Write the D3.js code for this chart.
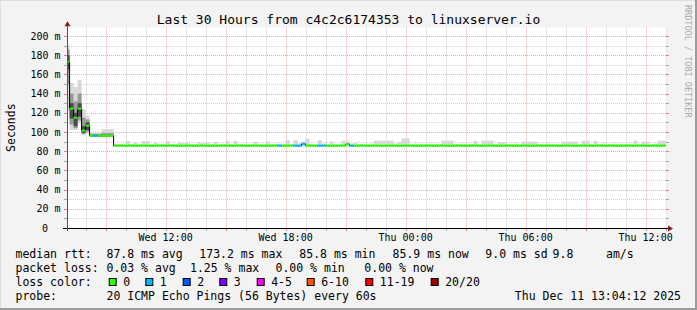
<!DOCTYPE html>
<html>
<head>
<meta charset="utf-8">
<script src="https://cdn.jsdelivr.net/npm/d3@7"></script>
<style>
body { margin: 0; background: #f3f3f3; }
svg text { font-family: "DejaVu Sans Mono", monospace; }
</style>
</head>
<body>
<div id="chart"></div>
<script>
// time window and 12 minute slots
var tStart = new Date(2025, 11, 10, 7, 4, 12);
var tEnd = new Date(2025, 11, 11, 13, 4, 12);
var firstSlot = new Date(2025, 11, 10, 7, 0, 0);
var slotMinutes = 12;

// median rtt per slot (ms)
var median = [
  173.2,124.3,114.9,124.3,101.4,106.6,96.2,96.3,96.1,96.2,96.2,96.3,85.8,85.9,85.8,
  85.8,85.9,85.8,85.8,85.9,85.8,85.8,85.8,85.9,85.8,85.8,85.9,85.8,85.8,85.8,
  85.9,85.8,85.8,85.8,85.9,85.8,85.8,85.8,85.8,85.9,85.8,85.8,85.8,85.9,85.8,
  85.8,85.8,85.9,85.8,85.8,85.8,85.8,85.9,85.8,85.8,85.8,85.9,85.8,85.8,87.6,
  85.9,85.8,85.8,85.8,85.9,85.8,85.8,85.8,85.8,85.9,87.2,85.8,85.8,85.8,85.9,
  85.8,85.8,85.9,85.8,85.8,85.8,85.9,85.8,85.8,85.8,85.9,85.8,85.8,85.8,85.8,
  85.9,85.8,85.8,85.8,85.9,85.8,85.8,85.8,85.9,85.8,85.8,85.8,85.9,85.8,85.8,
  85.8,85.9,85.8,85.8,85.8,85.9,85.8,85.8,85.8,85.9,85.8,85.8,85.8,85.9,85.8,
  85.8,85.9,85.8,85.8,85.8,85.9,85.8,85.8,85.8,85.9,85.8,85.8,85.8,85.9,85.8,
  85.8,85.9,85.8,85.8,85.8,85.9,85.8,85.8,85.9,85.8,85.8,85.8,85.9,85.8,85.9
];

// lost pings (of 20) per slot
var loss = [
  0,0,0,0,0,0,0,1,0,0,0,0,0,0,0,
  0,0,0,0,0,0,0,0,0,0,0,0,0,0,0,
  0,0,0,0,0,0,0,0,0,0,0,0,0,0,0,
  0,0,0,0,0,0,0,0,1,0,0,0,1,1,1,
  0,0,0,1,1,0,0,0,0,0,0,1,0,0,0,
  0,0,0,0,0,0,0,0,0,0,0,0,0,0,0,
  0,0,0,0,0,0,0,0,0,0,0,0,0,0,0,
  0,0,0,0,0,0,0,0,0,0,0,0,0,0,0,
  0,0,0,0,0,0,0,0,0,0,0,0,0,0,0,
  0,0,0,0,0,0,0,0,0,0,0,0,0,0,0
];

// smoke: slowest and fastest ping per slot (ms)
var smokeHi = [
  191,151,147,154,124,117,99,99,99,103,103,103,87.5,87.5,87.5,
  90.6,87.5,88.5,87.5,90.6,90.6,87.5,88.5,87.5,87.5,90.6,87.5,87.5,88.5,88.5,
  88.5,87.5,87.5,88.5,88.5,89.3,87.5,89.9,87.5,87.5,91,87.5,91,87.5,87.5,
  87.5,87.5,89.9,87.5,87.5,89.9,87.5,87.5,88,87.5,91.7,87.5,91.7,88,90,
  93,87.5,87.5,91.7,88,87.5,89.9,87.5,87.5,91,91,88,88.5,87.5,87.5,
  87.5,88,91,91,91,91,91,88,89.3,93.4,93.4,87.5,88,87.5,87.5,
  87.5,88,87.5,87.5,91,91,91,87.5,87.5,88,87.5,87.5,91,87.5,91,
  91,91,87.5,89.3,89.3,87.5,87.5,88,87.5,89.9,89.9,89.9,89.9,87.5,87.5,
  88,87.5,87.5,87.5,89.9,89.9,89.9,89.9,87.5,91,91,87.5,91,87.5,88,
  87.5,87.5,88,87.5,87.5,87.5,88,91,87.5,89.9,89.9,87.5,88,91,91
];
var smokeLo = [
  122,102,102,109,96.9,98,94.5,94.5,94.5,94.5,94.5,94.5,84.5,84.5,84.5,
  84.5,84.5,84.5,84.5,84.5,84.5,84.5,84.5,84.5,84.5,84.5,84.5,84.5,84.5,84.5,
  84.5,84.5,84.5,84.5,84.5,84.5,84.5,84.5,84.5,84.5,84.5,84.5,84.5,84.5,84.5,
  84.5,84.5,84.5,84.5,84.5,84.5,84.5,84.5,84.5,84.5,84.5,84.5,84.5,84.5,84.5,
  84.5,84.5,84.5,84.5,84.5,84.5,84.5,84.5,84.5,84.5,84.5,84.5,84.5,84.5,84.5,
  84.5,84.5,84.5,84.5,84.5,84.5,84.5,84.5,84.5,84.5,84.5,84.5,84.5,84.5,84.5,
  84.5,84.5,84.5,84.5,84.5,84.5,84.5,84.5,84.5,84.5,84.5,84.5,84.5,84.5,84.5,
  84.5,84.5,84.5,84.5,84.5,84.5,84.5,84.5,84.5,84.5,84.5,84.5,84.5,84.5,84.5,
  84.5,84.5,84.5,84.5,84.5,84.5,84.5,84.5,84.5,84.5,84.5,84.5,84.5,84.5,84.5,
  84.5,84.5,84.5,84.5,84.5,84.5,84.5,84.5,84.5,84.5,84.5,84.5,84.5,84.5,84.5
];
// denser smoke in the first slots
var midHi = [186,140,132,140,115,113,98,98,98,99,99,99];
var midLo = [150,108,104,112,98,100,95,95,95,95,95,95];
var coreHi = [180,130,120,130,106,110,97,97,97,97,97,97];
var coreLo = [165,114,106,116,99,102,96,96,96,96,96,96];

// axis labels
var yTickValues = [0, 20, 40, 60, 80, 100, 120, 140, 160, 180, 200];
var xTickTimes = [new Date(2025, 11, 10, 12), new Date(2025, 11, 10, 18), new Date(2025, 11, 11, 0),
                  new Date(2025, 11, 11, 6), new Date(2025, 11, 11, 12)];
var xTickLabels = ['Wed 12:00', 'Wed 18:00', 'Thu 00:00', 'Thu 06:00', 'Thu 12:00'];

// legend
var lossLabels = ['0', '1', '2', '3', '4-5', '6-10', '11-19', '20/20'];
var lossColors = ['#26ff00', '#00b8ff', '#0059ff', '#7e00ff', '#ff00ff', '#ff5500', '#ff0000', '#a10000'];
var rttStats = [87.8, 173.2, 85.8, 85.9, 9.0];
var rttStatNames = ['avg', 'max', 'min', 'now', 'sd'];
var amps = 9.8;
var lossStats = [0.03, 1.25, 0.00, 0.00];
var lossStatNames = ['avg', 'max', 'min', 'now'];

var width = 697, height = 310;
var plot = { left: 67, right: 667, bottom: 228 };

var svg = d3.select('#chart').append('svg')
    .attr('width', width)
    .attr('height', height);

var x = d3.scaleTime().domain([tStart, tEnd]).range([plot.left, plot.right]);
var y = d3.scaleLinear().domain([0, 200]).range([plot.bottom, 36]);
plot.top = y(209);

// frame
svg.append('rect').attr('width', width).attr('height', height).attr('fill', '#f3f3f3');
svg.append('rect').attr('x', 0).attr('y', 0).attr('width', width).attr('height', 1).attr('fill', '#dedede');
svg.append('rect').attr('x', 0).attr('y', 0).attr('width', 1).attr('height', height).attr('fill', '#dedede');
svg.append('rect').attr('x', 0).attr('y', height - 2).attr('width', width).attr('height', 2).attr('fill', '#9c9c9c');
svg.append('rect').attr('x', width - 2).attr('y', 0).attr('width', 2).attr('height', height).attr('fill', '#9c9c9c');

// canvas
svg.append('rect')
    .attr('x', plot.left).attr('y', plot.top)
    .attr('width', plot.right - plot.left).attr('height', plot.bottom - plot.top)
    .attr('fill', '#ffffff');

svg.append('clipPath').attr('id', 'clip').append('rect')
    .attr('x', plot.left).attr('y', plot.top)
    .attr('width', plot.right - plot.left).attr('height', plot.bottom - plot.top);

// grid
var minorCol = '#cfcfcf', majorCol = '#f4a8a8';
var hours = x.ticks(d3.timeHour.every(1));
var grid = svg.append('g');
grid.selectAll('.vg').data(hours).enter().append('line')
    .attr('x1', d => Math.round(x(d)) + 0.5).attr('x2', d => Math.round(x(d)) + 0.5)
    .attr('y1', plot.top).attr('y2', plot.bottom)
    .attr('stroke', d => d.getHours() % 3 === 0 ? majorCol : minorCol)
    .attr('stroke-dasharray', '1,1');
var yLines = y.ticks(20).filter(d => d > 0);
grid.selectAll('.hg').data(yLines).enter().append('line')
    .attr('x1', plot.left).attr('x2', plot.right)
    .attr('y1', d => Math.round(y(d)) + 0.5).attr('y2', d => Math.round(y(d)) + 0.5)
    .attr('stroke', d => d % 20 === 0 ? majorCol : minorCol)
    .attr('stroke-dasharray', '1,1');

// little ticks at the edges
grid.selectAll('.vt').data(hours).enter().append('line')
    .attr('x1', d => Math.round(x(d)) + 0.5).attr('x2', d => Math.round(x(d)) + 0.5)
    .attr('y1', plot.bottom).attr('y2', plot.bottom + 3)
    .attr('stroke', d => d.getHours() % 3 === 0 ? '#e88080' : '#a8a8a8');
grid.selectAll('.ht').data(yLines).enter().append('line')
    .attr('x1', plot.left - 3).attr('x2', plot.left)
    .attr('y1', d => Math.round(y(d)) + 0.5).attr('y2', d => Math.round(y(d)) + 0.5)
    .attr('stroke', d => d % 20 === 0 ? '#e88080' : '#a8a8a8');
grid.selectAll('.htr').data(yLines).enter().append('line')
    .attr('x1', plot.right - 1).attr('x2', plot.right + 2)
    .attr('y1', d => Math.round(y(d)) + 0.5).attr('y2', d => Math.round(y(d)) + 0.5)
    .attr('stroke', d => d % 20 === 0 ? '#e88080' : '#a8a8a8');

// slots
var slots = median.map((m, i) => ({
    i: i,
    t0: d3.timeMinute.offset(firstSlot, slotMinutes * i),
    t1: d3.timeMinute.offset(firstSlot, slotMinutes * (i + 1)),
    median: m,
    loss: loss[i],
    hi: smokeHi[i],
    lo: smokeLo[i]
}));

function lossIndex(n) {
    if (n <= 3) return n;
    if (n <= 5) return 4;
    if (n <= 10) return 5;
    if (n <= 19) return 6;
    return 7;
}

var g = svg.append('g').attr('clip-path', 'url(#clip)');

// smoke
g.selectAll('.smoke').data(slots).enter().append('rect')
    .attr('x', d => x(d.t0)).attr('width', d => x(d.t1) - x(d.t0))
    .attr('y', d => y(d.hi)).attr('height', d => y(d.lo) - y(d.hi))
    .attr('fill', '#d8d8d8');
g.selectAll('.mid').data(slots.slice(0, midHi.length)).enter().append('rect')
    .attr('x', d => x(d.t0)).attr('width', d => x(d.t1) - x(d.t0))
    .attr('y', d => y(midHi[d.i])).attr('height', d => y(midLo[d.i]) - y(midHi[d.i]))
    .attr('fill', '#9a9a9a');
g.selectAll('.core').data(slots.slice(0, coreHi.length)).enter().append('rect')
    .attr('x', d => x(d.t0)).attr('width', d => x(d.t1) - x(d.t0))
    .attr('y', d => y(coreHi[d.i])).attr('height', d => y(coreLo[d.i]) - y(coreHi[d.i]))
    .attr('fill', '#4a4a4a');

// median step line
var pts = slots.map(d => [x(d.t0), y(d.median)]);
pts.push([x(slots[slots.length - 1].t1), y(slots[slots.length - 1].median)]);
g.append('path')
    .attr('d', d3.line().curve(d3.curveStepAfter)(pts))
    .attr('fill', 'none')
    .attr('stroke', '#000')
    .attr('stroke-width', 1);

g.selectAll('.med').data(slots).enter().append('rect')
    .attr('x', d => x(d.t0)).attr('width', d => x(d.t1) - x(d.t0))
    .attr('y', d => y(d.median) - 1).attr('height', 2)
    .attr('fill', d => lossColors[lossIndex(d.loss)]);

// axes
svg.append('line')
    .attr('x1', plot.left - 4).attr('x2', plot.right + 3)
    .attr('y1', plot.bottom + 0.5).attr('y2', plot.bottom + 0.5)
    .attr('stroke', '#000');
svg.append('line')
    .attr('x1', plot.left + 0.5).attr('x2', plot.left + 0.5)
    .attr('y1', plot.bottom + 3).attr('y2', plot.top - 2)
    .attr('stroke', '#555');
svg.append('path')
    .attr('d', 'M' + (plot.left - 2.5) + ',' + (plot.top - 1) + 'L' + (plot.left + 0.5) + ',' + (plot.top - 6) +
        'L' + (plot.left + 3.5) + ',' + (plot.top - 1) + 'Z')
    .attr('fill', '#8b1a1a');
svg.append('path')
    .attr('d', 'M' + (plot.right + 1) + ',' + (plot.bottom - 2.5) + 'L' + (plot.right + 6) + ',' + (plot.bottom + 0.5) +
        'L' + (plot.right + 1) + ',' + (plot.bottom + 3.5) + 'Z')
    .attr('fill', '#8b1a1a');

// y labels
svg.selectAll('.yl').data(yTickValues).enter().append('text')
    .attr('x', d => d === 0 ? 48 : 60.5)
    .attr('y', d => y(d) + 3.5)
    .attr('text-anchor', 'end')
    .attr('font-size', '10px')
    .text(d => d === 0 ? '0' : d + ' m');

// x labels
svg.selectAll('.xl').data(xTickTimes).enter().append('text')
    .attr('x', d => x(d))
    .attr('y', 241)
    .attr('text-anchor', 'middle')
    .attr('font-size', '10px')
    .text((d, i) => xTickLabels[i]);

svg.append('text')
    .attr('transform', 'translate(14.5,' + ((plot.top + plot.bottom) / 2) + ') rotate(-90)')
    .attr('text-anchor', 'middle')
    .attr('font-size', '11.5px')
    .text('Seconds');

svg.append('text')
    .attr('x', width / 2).attr('y', 23.5)
    .attr('text-anchor', 'middle')
    .attr('font-size', '13px')
    .text('Last 30 Hours from c4c2c6174353 to linuxserver.io');

svg.append('text')
    .attr('transform', 'translate(685,5) rotate(90)')
    .attr('font-size', '8.5px')
    .attr('fill', '#aaaaaa')
    .text('RRDTOOL / TOBI OETIKER');

// legend
var legend = svg.append('g').attr('font-size', '11.5px');
function put(xp, yp, s) {
    legend.append('text').attr('x', xp).attr('y', yp).attr('xml:space', 'preserve').text(s);
}
var row = [257.5, 271.5, 285.5, 299.5];
put(15.5, row[0], 'median rtt:');
var rttX = [106.5, 199.3, 299.3, 392.6, 485.3];
rttStats.forEach((v, i) => put(rttX[i], row[0], v.toFixed(1) + ' ms ' + rttStatNames[i]));
put(552.6, row[0], amps.toFixed(1));
put(606, row[0], 'am/s');

put(15.5, row[1], 'packet loss:');
var lossX = [106.5, 190, 275.5, 364.3];
lossStats.forEach((v, i) => put(lossX[i], row[1], v.toFixed(2) + ' % ' + lossStatNames[i]));

put(15.5, row[2], 'loss color:');
var boxX = [108.7, 145.3, 182.7, 219.3, 256.7, 306.7, 365.3, 430.7];
lossLabels.forEach((l, i) => {
    legend.append('rect')
        .attr('x', boxX[i] + 0.5).attr('y', 278.5)
        .attr('width', 7).attr('height', 7)
        .attr('fill', lossColors[i]).attr('stroke', '#000');
    put(boxX[i] + 14.5, row[2], l);
});

put(15.5, row[3], 'probe:');
put(106.5, row[3], '20 ICMP Echo Pings (56 Bytes) every 60s');
legend.append('text').attr('x', 681).attr('y', row[3]).attr('text-anchor', 'end')
    .text('Thu Dec 11 13:04:12 2025');
</script>
</body>
</html>
